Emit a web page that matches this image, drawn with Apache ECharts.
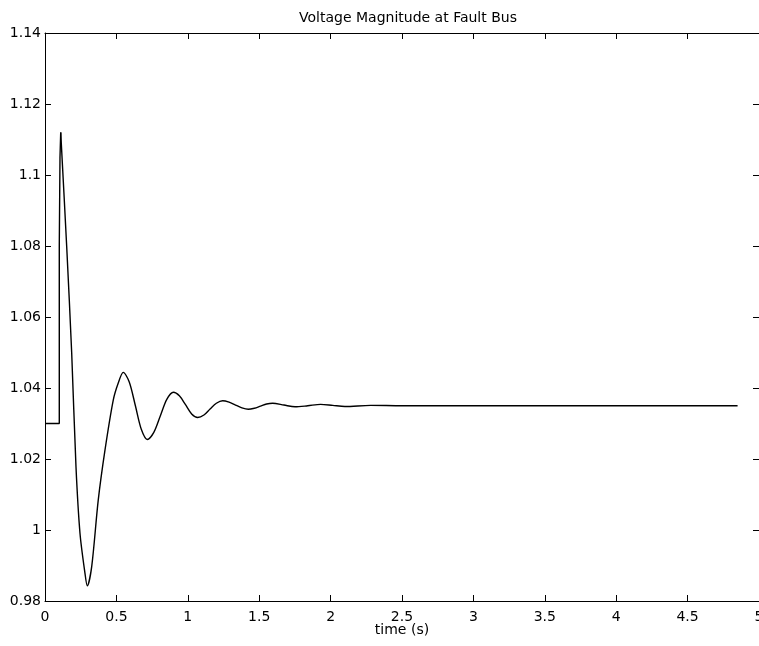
<!DOCTYPE html>
<html>
<head>
<meta charset="utf-8">
<script src="https://cdn.jsdelivr.net/npm/echarts@6/dist/echarts.min.js"></script>
<style>html,body{margin:0;padding:0;background:#fff;}#c{width:759px;height:646px;}</style>
</head>
<body>
<div id="c"></div>
<script>
// Pre-fault and step portion
const stepTimes = [0, 0.1, 0.1, 0.105, 0.11];
const stepVolts = [1.03, 1.03, 1.08, 1.105, 1.112];
// Post-fault oscillation
const oscTimes = [0.11, 0.152, 0.187, 0.217, 0.245, 0.28, 0.296, 0.327, 0.373, 0.42, 0.478, 0.513, 0.548,
  0.59, 0.633, 0.675, 0.717, 0.762, 0.808, 0.853, 0.899, 0.941, 0.984, 1.027, 1.069, 1.113, 1.156, 1.2, 1.244,
  1.289, 1.334, 1.379, 1.424, 1.466, 1.509, 1.552, 1.594, 1.673, 1.751, 1.84, 1.93, 2.015, 2.1, 2.28, 2.5, 3.0, 3.5, 4.0, 4.5, 4.85];
const oscVolts = [1.112, 1.0798, 1.0498, 1.0178, 0.9991, 0.9878, 0.9843, 0.9897, 1.0085, 1.0225, 1.0366, 1.0414, 1.0444,
  1.0417, 1.035, 1.0283, 1.0255, 1.0275, 1.0322, 1.0368, 1.0388, 1.0378, 1.0353, 1.0327, 1.0317, 1.0324, 1.0341, 1.0357, 1.0364,
  1.036, 1.0352, 1.0344, 1.034, 1.0343, 1.0349, 1.0355, 1.0357, 1.0352, 1.0347, 1.035, 1.0354, 1.0351, 1.0348, 1.0351, 1.035, 1.035, 1.035, 1.035, 1.035, 1.035];
const xTicks = {min: 0, max: 5, interval: 0.5};
const yTicks = {min: 0.98, max: 1.14, interval: 0.02};
const titleText = 'Voltage Magnitude at Fault Bus';
const xName = 'time (s)';

const font = 'DejaVu Sans, Liberation Sans, Arial, sans-serif';
const axisCommon = {
  axisLine: {show: true, onZero: false, lineStyle: {color: '#000', width: 1}},
  axisTick: {show: true, inside: true, length: 6, lineStyle: {color: '#000', width: 1}},
  splitLine: {show: false}
};
const chart = echarts.init(document.getElementById('c'));
chart.setOption({
  animation: false,
  backgroundColor: '#fff',
  title: {text: titleText, left: 403, textAlign: 'center', top: 6,
    textStyle: {fontFamily: font, fontSize: 14, fontWeight: 'normal', color: '#000'}},
  grid: {left: 45, right: 0, top: 33, bottom: 45, containLabel: false, outerBoundsMode: 'none'},
  xAxis: [
    Object.assign({type: 'value', position: 'bottom', min: xTicks.min, max: xTicks.max, interval: xTicks.interval,
      name: xName, nameLocation: 'middle', nameGap: 22, nameMoveOverlap: false,
      nameTextStyle: {fontFamily: font, fontSize: 14, color: '#000', verticalAlign: 'top'},
      axisLabel: {show: true, margin: 9, fontFamily: font, fontSize: 14, color: '#000', showMaxLabel: true, showMinLabel: true}}, axisCommon),
    Object.assign({type: 'value', position: 'top', min: xTicks.min, max: xTicks.max, interval: xTicks.interval,
      axisLabel: {show: false}}, axisCommon)
  ],
  yAxis: [
    Object.assign({type: 'value', position: 'left', min: yTicks.min, max: yTicks.max, interval: yTicks.interval,
      axisLabel: {show: true, margin: 4, fontFamily: font, fontSize: 14, color: '#000', showMaxLabel: true, showMinLabel: true}}, axisCommon),
    Object.assign({type: 'value', position: 'right', min: yTicks.min, max: yTicks.max, interval: yTicks.interval,
      axisLabel: {show: false}}, axisCommon)
  ],
  series: [
    {type: 'line', xAxisIndex: 0, yAxisIndex: 0, showSymbol: false, symbol: 'none',
      lineStyle: {color: '#000', width: 1.4},
      data: stepTimes.map((t, i) => [t, stepVolts[i]])},
    {type: 'line', xAxisIndex: 0, yAxisIndex: 0, showSymbol: false, symbol: 'none', smooth: 0.3,
      lineStyle: {color: '#000', width: 1.4},
      data: oscTimes.map((t, i) => [t, oscVolts[i]])}
  ]
});
</script>
</body>
</html>
